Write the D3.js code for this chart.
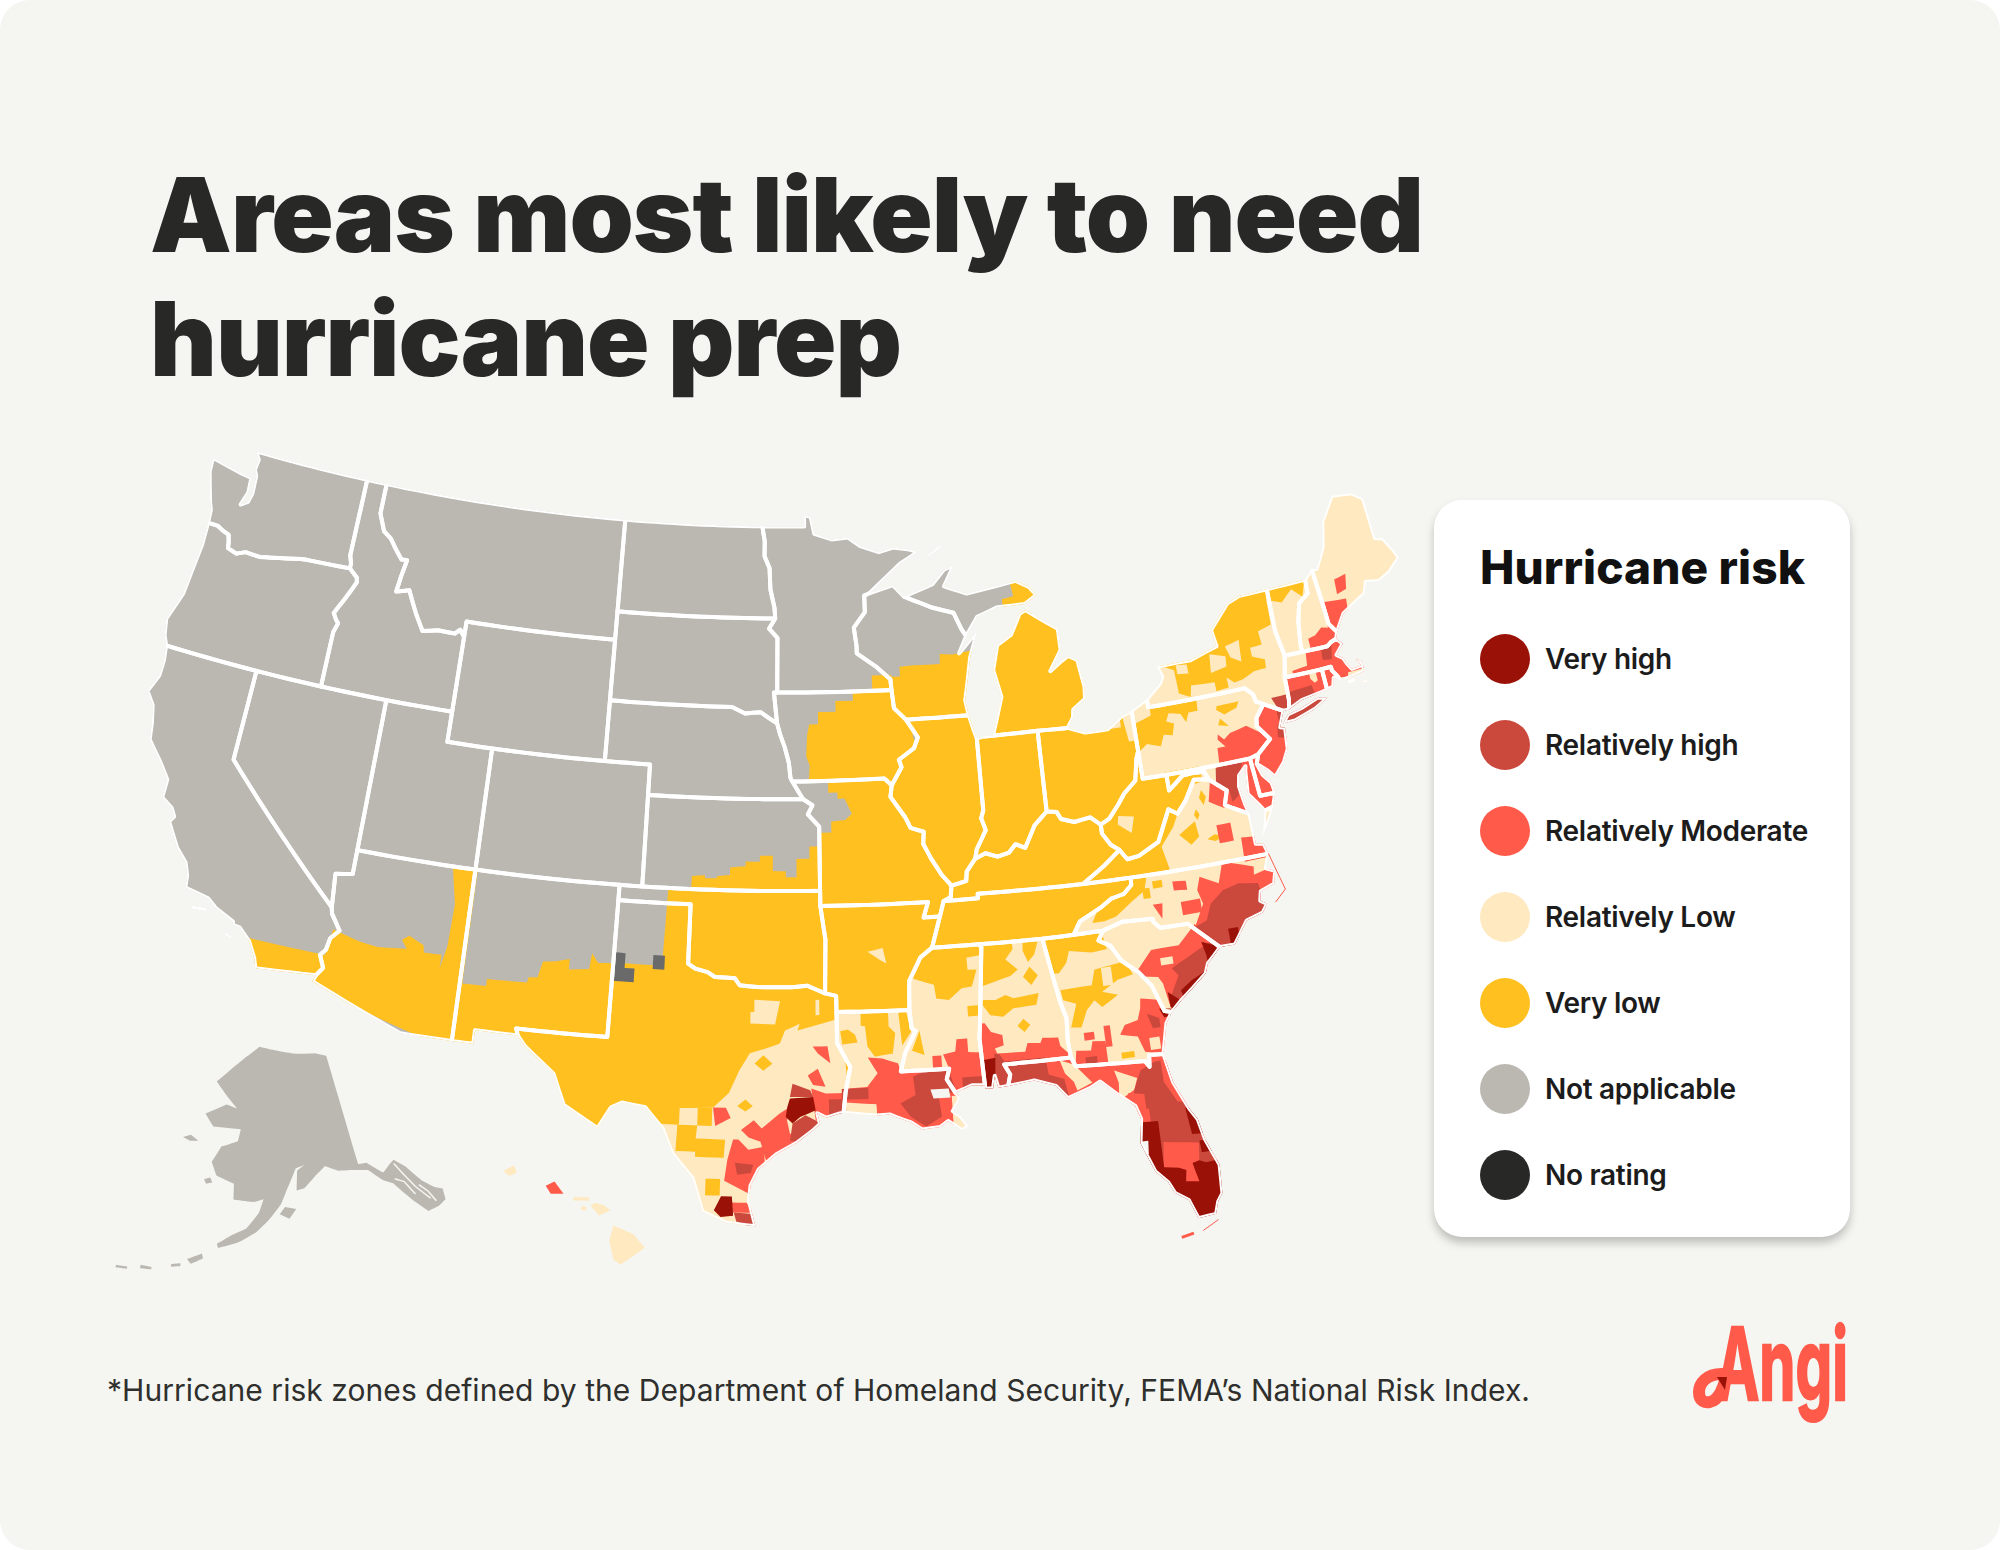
<!DOCTYPE html>
<html lang="en">
<head>
<meta charset="utf-8">
<title>Areas most likely to need hurricane prep</title>
<script src="https://cdn.jsdelivr.net/npm/d3@7"></script>
<style>
  html, body { margin: 0; padding: 0; background: #fff; }
  svg { display: block; }
  text { font-family: Inter, "Noto Sans", sans-serif; }
</style>
</head>
<body>
<script>
// legend
var riskLabels = ["Very high", "Relatively high", "Relatively Moderate", "Relatively Low", "Very low", "Not applicable", "No rating"];
var riskColors = ["#9a1207", "#cb483d", "#ff5a4a", "#ffe9c0", "#ffc020", "#bbb8b2", "#282826"];
var VH = 0, RH = 1, RM = 2, RL = 3, VL = 4, NA = 5, NR = 6;

// shared borders, lon/lat
var aColumbia = [[-124,46.27],[-123.5,46.26],[-123.2,46.15],[-122.9,46.08],[-122.8,45.85],[-122.75,45.65],[-122.3,45.55],[-121.9,45.68],[-121.2,45.65],[-120.65,45.73],[-119.95,45.83],[-119.3,45.93],[-119,45.95],[-116.92,46]];
var aSnake = [[-116.92,46],[-116.5,45.75],[-116.46,45.6],[-116.7,45.2],[-116.85,44.97],[-117.2,44.45],[-117.03,44.25],[-116.9,44.15],[-117.03,43.83],[-117.03,42]];
var aIdMt = [[-116.05,49],[-116.05,48],[-115.7,47.45],[-115.3,47.25],[-114.95,46.93],[-114.6,46.64],[-114.33,46.65],[-114.46,46.1],[-114.55,45.57],[-113.95,45.69],[-113.75,45.4],[-113.44,44.97],[-113,44.45],[-112.3,44.56],[-111.5,44.55],[-111.28,44.7],[-111.05,44.48]];
var aColoCa = [[-114.63,35],[-114.57,34.8],[-114.14,34.3],[-114.45,34],[-114.53,33.6],[-114.72,33.4],[-114.5,33],[-114.72,32.72]];
var aRedN = [[-97.23,49],[-97.1,48.5],[-97.1,48],[-96.85,47.6],[-96.8,46.9],[-96.6,46.3],[-96.56,45.94]];
var aMoIa = [[-96.45,42.49],[-96.3,42.1],[-96.1,41.7],[-95.92,41.2],[-95.85,40.7],[-95.77,40.58]];
var aMoKs = [[-95.3,40],[-94.9,39.8],[-95.1,39.5],[-94.62,39.1]];
var aMnWi = [[-92.05,46.72],[-92.3,46.65],[-92.3,46.1],[-92.85,45.6],[-92.75,45],[-92.75,44.75],[-91.9,44.3],[-91.25,43.85],[-91.22,43.5]];
var aMissWi = [[-91.22,43.5],[-91.15,42.9],[-90.64,42.5]];
var aMissIl = [[-90.64,42.5],[-90.15,41.9],[-90.35,41.55],[-91.05,41.2],[-90.95,40.95],[-91.42,40.38]];
var aMissMo = [[-91.42,40.38],[-91.5,40],[-90.9,39.3],[-90.7,38.95],[-90.15,38.8],[-90.2,38.4],[-89.9,37.9],[-89.5,37.35],[-89.13,36.98]];
var aMissKy = [[-89.13,36.98],[-89.2,36.6],[-89.5,36.5]];
var aMissTn = [[-89.5,36.5],[-89.7,36],[-90.1,35]];
var aMissAr = [[-90.1,35],[-90.6,34.7],[-91.1,33.95],[-91.15,33]];
var aMissLa = [[-91.15,33],[-91.1,32.4],[-90.95,32.3],[-91.4,31.6],[-91.6,31]];
var aOhioIl = [[-89.13,36.98],[-88.5,37.1],[-88.45,37.4],[-88.05,37.8]];
var aOhioIn = [[-88.05,37.8],[-87.6,37.95],[-87.1,37.8],[-86.6,37.9],[-86.3,38.15],[-85.9,38],[-85.4,38.7],[-84.82,39.1]];
var aOhioOh = [[-84.82,39.1],[-84.4,39.05],[-84.25,38.8],[-83.7,38.65],[-83,38.73],[-82.6,38.45]];
var aOhioWv = [[-82.6,38.45],[-82.2,38.6],[-81.75,39],[-81.4,39.35],[-80.85,39.7],[-80.65,40.4],[-80.52,40.64]];
var aWabash = [[-87.53,41.72],[-87.53,39.35],[-87.65,39.1],[-87.5,38.7],[-87.95,38.1],[-88.05,37.8]];
var aRed = [[-100,34.56],[-99.7,34.4],[-99.2,34.3],[-98.9,34.15],[-98.1,34.13],[-97.9,33.9],[-97.2,33.85],[-96.6,33.85],[-95.8,33.85],[-95.2,33.9],[-94.48,33.64]];
var aRio = [[-106.53,31.78],[-106.2,31.45],[-105,30.65],[-104.5,29.65],[-103.15,28.98],[-102.7,29.7],[-102.3,29.88],[-101.4,29.77],[-100.7,29.1],[-100.3,28.3],[-99.5,27.5],[-99.1,26.4],[-98.2,26.05],[-97.15,25.95]];
var aTxGulf = [[-97.15,25.95],[-97.4,26.8],[-97.35,27.3],[-97.05,27.85],[-96.4,28.35],[-95.6,28.75],[-95,29.15],[-94.75,29.35],[-94.85,29.7],[-94.5,29.55],[-94,29.68],[-93.85,29.7]];
var aLaGulf = [[-93.85,29.7],[-92.6,29.58],[-92.1,29.6],[-91.85,29.5],[-91.3,29.3],[-90.9,29.05],[-90.2,29.1],[-89.9,29.28],[-89.4,28.95],[-89.15,29.05],[-89.4,29.4],[-89.7,29.6],[-89.45,29.9],[-89.4,30.05],[-89.55,30.2]];
var aTnNc = [[-81.68,36.59],[-81.7,36.35],[-82.05,36.1],[-82.6,36],[-83.1,35.75],[-84,35.4],[-84.32,34.99]];
var aGaAl = [[-85.6,34.98],[-85.18,32.87],[-85,32.3],[-85.05,31.55],[-85,31]];
var aScGa = [[-83.11,35],[-83.35,34.7],[-82.9,34.48],[-82.55,33.95],[-81.95,33.5],[-81.5,33],[-81.15,32.1],[-80.87,32.03]];
var aPotomac = [[-77.72,39.32],[-77.05,38.85],[-77.25,38.4],[-76.95,38.25],[-76.3,37.95]];
var aWvVa = [[-77.72,39.32],[-78.35,39.4],[-78.87,38.77],[-79.3,38.4],[-79.65,38.6],[-80.3,37.6],[-81.2,37.25],[-81.7,37.2],[-81.97,37.54]];
var aNcCoast = [[-75.87,36.55],[-76.1,36.1],[-75.75,35.95],[-75.9,35.55],[-76.5,35.4],[-76.6,35.1],[-76.35,34.95],[-76.6,34.7],[-77.3,34.55],[-77.95,33.85],[-78.55,33.86]];
var aPacWa = [[-122.75,49],[-122.5,48.75],[-122.55,48.4],[-122.4,48.2],[-122.35,47.6],[-122.45,47.3],[-122.75,47.15],[-122.55,47.6],[-122.6,48.1],[-123.1,48.15],[-124.7,48.38],[-124.65,47.9],[-124.2,46.95],[-124.05,46.7],[-124,46.27]];
var aPacOr = [[-124,46.27],[-123.97,45.5],[-124.07,44.6],[-124.15,43.8],[-124.4,43.2],[-124.55,42.84],[-124.4,42.3],[-124.2,42]];
var aPacCa = [[-124.2,42],[-124.1,41.5],[-124.1,41],[-124.4,40.4],[-124,40],[-123.8,39.4],[-123.7,38.9],[-123,38.3],[-122.5,37.8],[-122.5,37.2],[-122,36.95],[-121.8,36.7],[-121.95,36.5],[-121.35,35.75],[-120.85,35.35],[-120.65,34.95],[-120.6,34.55],[-119.6,34.4],[-119.2,34.15],[-118.8,34],[-118.4,33.85],[-118.4,33.75],[-118.1,33.72],[-117.6,33.35],[-117.25,32.85],[-117.12,32.53]];
function rev(a) { return a.slice().reverse(); }
function ring() { return [].concat.apply([], arguments); }

// state outlines
var stateRings = {
  WA: [ring([[-122.75,49],[-117.04,49],[-117.04,46.42],[-116.92,46.17]], rev(aColumbia), rev(aPacWa))],
  OR: [ring(aColumbia, aSnake, [[-124.2,42]], rev(aPacOr))],
  CA: [ring([[-124.2,42],[-120,42],[-120,39]], aColoCa, [[-117.12,32.53]], rev(aPacCa))],
  NV: [[[-120,42],[-114.04,42],[-114.05,37],[-114.05,36.2],[-114.75,36.1],[-114.63,35],[-120,39]]],
  AZ: [ring([[-114.05,37],[-109.05,37],[-109.05,31.33],[-111.07,31.33],[-114.81,32.5]], rev(aColoCa), [[-114.75,36.1],[-114.05,36.2]])],
  ID: [ring([[-117.04,49]], aIdMt, [[-111.05,42],[-117.03,42]], rev(aSnake), [[-116.92,46.17],[-117.04,46.42]])],
  MT: [ring([[-116.05,49],[-104.05,49],[-104.05,45],[-111.05,45]], rev(aIdMt))],
  WY: [[[-111.05,45],[-104.05,45],[-104.05,41],[-111.05,41]]],
  UT: [[[-114.04,42],[-111.05,42],[-111.05,41],[-109.05,41],[-109.05,37],[-114.05,37]]],
  CO: [[[-109.05,41],[-102.05,41],[-102.05,37],[-109.05,37]]],
  NM: [[[-109.05,37],[-103,37],[-103,36.5],[-103.04,32],[-106.62,32],[-106.53,31.78],[-108.21,31.78],[-108.21,31.33],[-109.05,31.33]]],
  ND: [ring([[-104.05,49]], aRedN, [[-104.05,45.94]])],
  SD: [[[-104.05,45.94],[-96.56,45.94],[-96.85,45.6],[-96.45,45.3],[-96.45,43.5],[-96.6,43.5],[-96.45,42.49],[-96.7,42.6],[-97.2,42.85],[-97.9,42.8],[-98.5,43],[-104.05,43]]],
  NE: [ring([[-104.05,43],[-98.5,43],[-97.9,42.8],[-97.2,42.85],[-96.7,42.6]], aMoIa, [[-95.3,40],[-102.05,40],[-102.05,41],[-104.05,41]])],
  KS: [ring([[-102.05,40]], aMoKs, [[-94.62,37],[-102.05,37]])],
  MN: [ring([[-97.23,49],[-95.15,49],[-95.15,49.38],[-94.82,49.32],[-94.65,48.75],[-93.8,48.55],[-93,48.6],[-92.4,48.3],[-91.5,48.07],[-90.8,48.2],[-90,48.1],[-89.6,48],[-90.5,47.65],[-91.5,47.05]], aMnWi, [[-96.45,43.5],[-96.45,45.3],[-96.85,45.6]], rev(aRedN))],
  IA: [ring([[-96.6,43.5]], aMissWi, aMissIl, [[-91.73,40.61]], rev(aMoIa))],
  MO: [ring([[-95.77,40.58],[-91.73,40.61]], aMissMo, aMissKy, aMissTn.slice(0,2), [[-90.37,36],[-90.15,36.5],[-94.62,36.5],[-94.62,37]], rev(aMoKs))],
  AR: [ring([[-94.62,36.5],[-90.15,36.5],[-90.37,36]], aMissTn.slice(1), aMissAr, [[-94.04,33.02],[-94.04,33.55],[-94.48,33.64],[-94.43,35.4]])],
  LA: [ring([[-94.04,33.02]], aMissLa, [[-89.73,31],[-89.85,30.65]], rev(aLaGulf), [[-93.75,30.4],[-93.55,31.2],[-94.04,32]])],
  OK: [ring([[-103,37],[-94.62,37],[-94.62,36.5],[-94.43,35.4]], rev(aRed), [[-100,36.5],[-103,36.5]])],
  TX: [ring([[-103,36.5],[-100,36.5]], aRed, [[-94.04,33.55],[-94.04,33.02],[-94.04,32],[-93.55,31.2],[-93.75,30.4]], rev(aTxGulf), rev(aRio), [[-106.62,32],[-103.04,32]])],
  WI: [ring([[-92.05,46.72],[-90.9,46.95],[-90.4,46.55],[-89.1,46.13],[-88.1,45.9],[-87.8,45.35],[-87.6,45.1],[-88,44.55],[-87.05,45.25],[-87.5,44.4],[-87.75,43.5],[-87.9,43],[-87.8,42.5]], rev(aMissWi), rev(aMnWi))],
  IL: [ring([[-90.64,42.5],[-87.8,42.5],[-87.6,41.9]], aWabash, rev(aOhioIl), rev(aMissMo), rev(aMissIl))],
  IN: [ring([[-87.53,41.72],[-87.2,41.76],[-84.8,41.76]], rev(aOhioIn), rev(aWabash))],
  OH: [ring([[-84.8,41.76],[-83.45,41.73],[-82.7,41.5],[-81.7,41.5],[-81,41.85],[-80.52,41.98]], rev(aOhioWv), rev(aOhioOh))],
  KY: [ring(aOhioIl, aOhioIn, aOhioOh, [[-82.6,38.15],[-82.3,37.75],[-81.97,37.54],[-82.7,37.1],[-83.68,36.6],[-86,36.63],[-88.07,36.65],[-88.07,36.5]], rev(aMissKy))],
  TN: [ring([[-89.5,36.5],[-88.07,36.5],[-88.07,36.65],[-86,36.63],[-83.68,36.6]], aTnNc, [[-85.6,34.98],[-88.2,35]], rev(aMissTn))],
  MS: [ring([[-90.1,35],[-88.2,35],[-88.1,34.9],[-88.47,31.9],[-88.4,30.37],[-88.9,30.4],[-89.55,30.2],[-89.85,30.65],[-89.73,31]], rev(aMissLa), rev(aMissAr))],
  AL: [ring([[-88.2,35]], aGaAl, [[-87.6,31],[-87.4,30.65],[-87.52,30.28],[-87.9,30.25],[-88,30.65],[-88.1,30.25],[-88.4,30.25],[-88.47,31.9],[-88.1,34.9]])],
  GA: [ring([[-85.6,34.98],[-84.32,34.99]], aScGa, [[-81.15,31.7],[-81.3,31.2],[-81.45,30.71],[-82,30.75],[-82.05,30.36],[-82.2,30.57],[-84.86,30.7]], rev(aGaAl))],
  FL: [[[-87.6,31],[-85,31],[-84.86,30.7],[-82.2,30.57],[-82.05,30.36],[-82,30.75],[-81.45,30.71],[-81.25,29.75],[-80.8,28.8],[-80.55,28.4],[-80.4,27.7],[-80.03,26.8],[-80.1,25.85],[-80.3,25.6],[-80.45,25.2],[-81.1,25.15],[-81.35,25.8],[-81.8,26.1],[-82,26.5],[-82.4,26.9],[-82.6,27.4],[-82.8,27.9],[-82.65,28.7],[-82.8,29.15],[-83.4,29.6],[-84,30.1],[-84.35,29.95],[-85.3,29.68],[-85.7,30.13],[-86.5,30.38],[-87.52,30.28],[-87.4,30.65]]],
  SC: [ring([[-83.11,35],[-82.3,35.2],[-81.04,35.15],[-81.04,35.05],[-80.8,34.82],[-79.67,34.8],[-78.55,33.86],[-79.15,33.4],[-79.3,33.1],[-79.9,32.7],[-80.45,32.35]], rev(aScGa))],
  NC: [ring([[-81.68,36.59]], aNcCoast, [[-79.67,34.8],[-80.8,34.82],[-81.04,35.05],[-81.04,35.15],[-82.3,35.2],[-83.11,35]], rev(aTnNc))],
  VA: [ring([[-83.68,36.6],[-82.7,37.1]], rev(aWvVa), aPotomac, [[-76.3,37.5],[-76.3,36.95],[-75.98,36.9],[-75.87,36.55],[-81.68,36.59]]),
       [[-75.95,37.15],[-75.65,37.95],[-75.25,38.03],[-75.6,37.55]]],
  WV: [ring([[-80.52,40.64],[-80.52,39.72],[-79.48,39.72],[-79.48,39.2],[-78.8,39.6],[-78.4,39.62],[-77.85,39.6]], aWvVa, [[-82.3,37.75],[-82.6,38.15]], aOhioWv)],
  MD: [ring([[-79.48,39.72],[-75.79,39.72],[-75.7,38.46],[-75.05,38.45],[-75.25,38.03],[-75.65,37.95],[-75.85,38.2],[-76.2,38.6],[-76.1,39.35],[-76.05,39.5],[-76.4,39.25],[-76.5,38.9],[-76.4,38.3]], rev(aPotomac), [[-77.85,39.6],[-78.4,39.62],[-78.8,39.6],[-79.48,39.2]])],
  DE: [[[-75.79,39.72],[-75.4,39.8],[-75.55,39.5],[-75.4,39.1],[-75.1,38.8],[-75.05,38.45],[-75.7,38.46]]],
  NJ: [[[-74.7,41.36],[-73.9,41],[-74.2,40.5],[-74,40.45],[-74.1,39.75],[-74.4,39.35],[-74.9,38.95],[-75.15,39.2],[-75.55,39.5],[-75.4,39.8],[-74.75,40.2],[-75.2,40.7],[-75.13,40.97]]],
  PA: [[[-80.52,41.98],[-79.76,42.27],[-79.76,42],[-75.35,42],[-75.05,41.75],[-75,41.5],[-74.7,41.36],[-75.13,40.97],[-75.2,40.7],[-74.75,40.2],[-75.4,39.8],[-75.79,39.72],[-80.52,39.72]]],
  NY: [[[-79.76,42.27],[-79.05,42.7],[-78.9,42.9],[-79.05,43.27],[-77.5,43.27],[-76.2,43.55],[-76.3,44.1],[-75.3,44.85],[-74.7,45],[-73.35,45.01],[-73.4,44.2],[-73.43,43.6],[-73.27,42.75],[-73.5,42.05],[-73.55,41.3],[-73.65,41],[-73.9,41],[-74.7,41.36],[-75,41.5],[-75.05,41.75],[-75.35,42],[-79.76,42]]],
  CT: [[[-73.5,42.05],[-71.8,42.02],[-71.8,41.33],[-72,41.3],[-73,41.2],[-73.65,41],[-73.55,41.3]]],
  RI: [[[-71.8,42.02],[-71.38,42.02],[-71.38,41.9],[-71.2,41.67],[-71.13,41.5],[-71.38,41.65],[-71.5,41.37],[-71.8,41.33]]],
  MA: [[[-73.27,42.75],[-72.46,42.73],[-71.3,42.7],[-71.1,42.8],[-70.82,42.87],[-70.6,42.65],[-71,42.35],[-70.75,42.2],[-70.65,42],[-70.5,41.78],[-70.05,41.8],[-70.2,42.07],[-69.95,41.9],[-70,41.6],[-70.65,41.53],[-71.13,41.5],[-71.2,41.67],[-71.38,41.9],[-71.38,42.02],[-71.8,42.02],[-73.5,42.05]]],
  VT: [[[-73.35,45.01],[-71.5,45.01],[-71.55,44.55],[-72.05,44.3],[-72.3,43.7],[-72.45,43],[-72.46,42.73],[-73.27,42.75],[-73.43,43.6],[-73.4,44.2]]],
  NH: [[[-71.5,45.01],[-71.08,45.3],[-71,44],[-70.98,43.4],[-70.7,43.07],[-70.82,42.87],[-71.1,42.8],[-71.3,42.7],[-72.46,42.73],[-72.45,43],[-72.3,43.7],[-72.05,44.3],[-71.55,44.55]]],
  ME: [[[-71.08,45.3],[-70.85,45.25],[-70.3,45.9],[-70,46.7],[-69.22,47.45],[-69.05,47.43],[-68.3,47.35],[-67.8,47.07],[-67.8,45.7],[-67.45,45.6],[-67.15,45.15],[-67,44.85],[-67.6,44.5],[-68.2,44.3],[-68.8,44.4],[-69,44.05],[-69.8,43.75],[-70.2,43.6],[-70.7,43.07],[-70.98,43.4],[-71,44]]],
  MI: [[[-87.2,41.76],[-84.8,41.76],[-83.45,41.73],[-83.15,42.05],[-83.1,42.3],[-82.5,42.6],[-82.45,43],[-82.6,43.9],[-83,44.07],[-83.4,43.9],[-83.9,43.65],[-83.3,44.3],[-83.3,45],[-84.7,45.75],[-85,45.65],[-85.5,45],[-86.2,44.7],[-86.5,43.9],[-86.25,43],[-86.6,42.2],[-86.8,41.76]]],
  UP: [[[-90.4,46.55],[-89,46.9],[-88.4,47.35],[-87.9,47.47],[-88.45,46.8],[-87.4,46.5],[-85,46.75],[-84.4,46.5],[-84.1,46.2],[-84.7,45.95],[-86,45.95],[-87,45.7],[-87.6,45.1],[-87.8,45.35],[-88.1,45.9],[-89.1,46.13]],
       [[-89.2,47.85],[-88.5,48.17],[-88.4,48.12],[-89.1,47.82]]]
};
// islands kept on the parent state
stateRings.NY.push([[-74.03,40.6],[-73.75,40.85],[-73.1,40.95],[-72.3,41.15],[-71.87,41.07],[-72.5,40.82],[-73.5,40.6]]);
stateRings.CA.push([[-120.2,34.03],[-119.6,34.08],[-119.5,33.97],[-120.1,33.93]], [[-118.6,33.45],[-118.3,33.35],[-118.35,33.3],[-118.6,33.38]]);
stateRings.MA.push([[-70.83,41.45],[-70.5,41.47],[-70.5,41.35],[-70.8,41.33]], [[-70.2,41.3],[-69.98,41.3],[-69.98,41.23],[-70.2,41.25]]);

var stateBase = {
  WA: NA, OR: NA, CA: NA, NV: NA, AZ: NA, ID: NA, MT: NA, WY: NA, UT: NA, CO: NA, NM: NA, ND: NA, SD: NA, NE: NA, KS: NA, MN: NA, IA: NA, WI: NA, UP: NA,
  MO: VL, AR: VL, OK: VL, TX: VL, IL: VL, IN: VL, OH: VL, KY: VL, TN: VL, WV: VL, MI: VL,
  LA: RL, MS: RL, AL: RL, GA: RL, SC: RL, NC: RL, VA: RL, PA: RL, NY: RL, VT: RL, NH: RL, ME: RL, MA: RL,
  FL: RM, MD: RM, DE: RM, NJ: RM, CT: RM, RI: RM
};

var alaskaRings = [
  [[-141,69.65],[-141,60.3],[-139.6,60.2],[-137.5,59],[-136,59.5],[-135.2,59.7],[-133.8,58.8],[-132.3,57.2],[-131,56.3],[-130,55.9],[-130.3,55],[-131.5,54.75],[-133.2,54.7],[-134.7,56],[-135.7,57],[-136.6,57.9],[-137.9,58.4],[-139.7,59.6],[-142.5,60],[-144.5,60.2],[-146.5,60.8],[-148.3,60.2],[-150.5,59.3],[-151.8,59.2],[-151.3,60.8],[-150,61.2],[-151.5,61],[-153.3,59.4],[-154.5,58.2],[-156.5,57],[-158.5,56],[-161,55.2],[-164,54.65],[-164.2,55],[-162,55.8],[-160,56.3],[-158,57.6],[-157.2,58.7],[-158.8,58.5],[-162,58.7],[-162,60],[-165,60.6],[-166,61.7],[-164.5,63],[-161.5,63.5],[-161,64.5],[-163,64.55],[-166.3,64.6],[-168.1,65.6],[-164,66.5],[-161.8,66.2],[-163.8,67.1],[-166.5,68.35],[-163,69.6],[-160,70.5],[-156.6,71.35],[-152,70.85],[-148,70.4],[-143.5,70.1]],
  [[-154.8,57.4],[-153.9,57.95],[-152.2,57.7],[-153.4,56.95]],
  [[-171.7,63.4],[-170.3,63.7],[-168.8,63.3],[-170.3,63.2]],
  [[-167,60.2],[-166,60.4],[-165.6,60],[-166.6,59.85]],
  [[-168.2,53.5],[-166.2,54.1],[-166,53.7],[-167.6,53.15]],
  [[-170.3,52.9],[-169,53.1],[-169,52.85],[-170.2,52.7]],
  [[-174.3,52.4],[-172.8,52.4],[-172.8,52.2],[-174.3,52.1]],
  [[-177.5,51.9],[-176,52],[-176,51.8],[-177.5,51.7]]
];
var alaskaChannels = [
  [[-135.4,59.4],[-134.5,58.2],[-133.6,57],[-132.2,55.6]],
  [[-136.1,58.2],[-134.9,57.7],[-134,56.4]],
  [[-133,57],[-132.1,56.2],[-131.6,55.2]]
];
var hawaiiRisk = [RL, RL, RL, RL, RM, RL];
var hawaiiRings = [
  [[-155.9,20.25],[-155.2,19.95],[-154.8,19.5],[-155.65,18.95],[-155.9,19.1],[-156.05,19.75]],
  [[-156.7,20.9],[-156.55,21],[-156.25,20.93],[-156,20.75],[-156.4,20.58],[-156.6,20.8]],
  [[-157.3,21.2],[-156.75,21.18],[-156.75,21.07],[-157.3,21.08]],
  [[-157,20.9],[-156.82,20.85],[-156.9,20.74],[-157.05,20.8]],
  [[-158.28,21.57],[-157.97,21.71],[-157.65,21.3],[-158.1,21.3]],
  [[-159.78,22.05],[-159.4,22.23],[-159.3,22],[-159.55,21.88]]
];

// risk areas, by county group
var yellowA = [
  [[-117.65,33.45],[-114.52,33.43],[-114.4,32.4],[-117.5,32.4]],
  [[-114.4,34.3],[-113.24,34.07],[-112.5,34],[-111.35,34.1],[-111.6,34.37],[-111.33,34.54],[-110.7,34.3],[-110.65,34.07],[-109.93,34.08],[-109.93,33.64],[-109.75,34.37],[-109.69,35.78],[-110,37],[-108.95,37],[-108.95,31],[-115,32.4],[-114.52,33.45]],
  [[-109.1,33.24],[-108,33.27],[-108,33.5],[-106.4,33.54],[-106.35,33.72],[-106,33.75],[-105.85,34.28],[-105.3,34.33],[-104.78,34.45],[-104.78,34.1],[-103.97,34.18],[-103.9,34.7],[-103.63,34.4],[-103,34.43],[-102.9,31],[-109.1,31]],
  [[-100,37.08],[-100,37.43],[-99.45,37.47],[-99.45,37.37],[-98.95,37.38],[-98.95,37.45],[-98.4,37.5],[-98.4,37.75],[-97.75,37.8],[-97.75,37.95],[-97.15,37.95],[-97.15,38.15],[-96.6,38.15],[-96.6,37.65],[-96.05,37.65],[-96.05,37.45],[-95.6,37.45],[-95.6,38.05],[-95.05,38.05],[-95.05,38.45],[-94.55,38.45],[-94.5,36.9],[-100,36.9]],
  [[-95.05,40.5],[-95,41.1],[-95.15,41.4],[-95.1,42.1],[-95,42.45],[-94.6,42.45],[-94.6,42.85],[-93.8,42.85],[-93.8,43.2],[-93,43.2],[-93,43.55],[-91,43.55],[-90,41],[-91,40.3]],
  [[-92.1,44],[-91.2,44],[-91.2,43.45],[-92.1,43.45]],
  [[-91.5,43.4],[-91.5,43.93],[-90.8,43.93],[-90.8,44.25],[-90.14,44.27],[-88.93,44.25],[-88.9,44.58],[-88.3,44.53],[-87,44.65],[-87,42],[-91,42]],
  [[-85.35,47],[-85.2,46.25],[-85.75,46.2],[-85.75,45.6],[-83.5,45.6],[-83.5,47]]
];
var grayA = [
  [[-96,40.6],[-94.2,40.62],[-94.2,40.2],[-93.8,40.2],[-93.8,40],[-93.5,40],[-93.2,39.5],[-93.5,39.3],[-94.1,39.25],[-94.1,38.9],[-95,38.9],[-96,40]],
  [[-103.04,37.1],[-100.95,37.1],[-101.05,34.45],[-103.04,34.45]]
];
var yellowInCream = [
  [[-73.46,45.1],[-73.55,43.85],[-74.2,43.73],[-74.17,43.28],[-74.72,43.26],[-74.72,42.97],[-74.18,42.78],[-74.22,42.5],[-74.78,42.48],[-75.37,42.3],[-75.75,42.26],[-76.05,42.47],[-76.05,42.14],[-76.62,42.1],[-76.62,42.4],[-77.69,42.45],[-77.8,42.08],[-78.29,42.27],[-78.32,43.05],[-79.1,43.35],[-79,44],[-76,45]],
  [[-77.57,42],[-77.62,41.6],[-78.03,41.6],[-78.21,41.3],[-78.39,41.6],[-78.91,41.69],[-79.08,41.44],[-78.75,41.33],[-78.9,40.96],[-79.29,41.03],[-79.5,40.67],[-80.08,40.82],[-80.4,40.65],[-80.6,40.65],[-80.6,41.55],[-80.42,41.55],[-79.71,41.72],[-79.7,42]],
  [[-76.76,41.62],[-75.75,41.63],[-75.9,41.44],[-76.49,41.3],[-76.8,41.5]],
  [[-76.71,41.2],[-76.4,40.9],[-76.85,41]],
  [[-73.5,44.67],[-72.82,44.47],[-72.25,44.82],[-71.82,44.48],[-71.5,45.1],[-73.5,45.1]],
  [[-78.4,39.5],[-79.07,38.73],[-79.57,38.01],[-80.2,37.43],[-80,36.58],[-84,36.58],[-84,38],[-80,39.6]],
  [[-78.63,38.06],[-79.38,37.71],[-78.95,37.32],[-78.57,37.54]],
  [[-78.13,39.03],[-77.98,38.78],[-78.13,38.53],[-78.28,38.78]],
  [[-78.5,38.44],[-78.38,38.26],[-78.5,38.08],[-78.62,38.26]],
  [[-77.92,37.52],[-77.55,37.41],[-77.92,37.3],[-78.25,37.41]],
  [[-79.6,39.8],[-78,39.8],[-78,39.3],[-79.6,39.1]],
  [[-81.7,36.6],[-81,36.6],[-81.2,36.1],[-81.8,35.8],[-82.5,35.4],[-83,35.3],[-83.5,35.3],[-83,36]],
  [[-80.83,36.36],[-80.43,36.36],[-80.43,36.12],[-80.83,36.12]],
  [[-81.28,36.17],[-80.98,36.17],[-80.98,35.83],[-81.28,35.83]],
  [[-85.6,35],[-83.2,35.05],[-83.06,34.39],[-83.69,34.34],[-84.59,34.48],[-84.75,34.11],[-85.09,33.8],[-85.4,33.8]],
  [[-85.11,33.24],[-83.85,33.28],[-83.67,33.77],[-82.4,33.92],[-82.17,33.45],[-82.8,33.34],[-83.47,33.02],[-82.87,32.85],[-83.55,32.52],[-83.82,32.78],[-84.17,32.48],[-84.46,31.94],[-84.86,31.98],[-84.55,32.74],[-85.05,32.9]],
  [[-83.05,30.95],[-82.55,30.95],[-82.55,30.75],[-83.05,30.75]],
  [[-88.2,35.05],[-86.85,35.05],[-86.85,34.74],[-87.18,34.43],[-86.72,34.06],[-87.04,33.87],[-87.45,33.79],[-88.2,33.62]],
  [[-86.41,35.05],[-85.75,35.05],[-86,34.5],[-86.28,34.27],[-86.45,34.66]],
  [[-88.22,33.17],[-87.72,33.13],[-87.3,33.27],[-87,33.14],[-85.98,33.23],[-86.12,32.85],[-87.04,32.81],[-87.47,32.56],[-87.97,32.65],[-88.24,33]],
  [[-86.69,32.44],[-86.44,32.22],[-86.69,32],[-86.94,32.22]],
  [[-86.24,34.11],[-85.94,33.81],[-86.24,33.51],[-86.54,33.81]],
  [[-91.2,34.1],[-90.12,33.78],[-90.06,33.33],[-89.56,33.25],[-89.02,33.61],[-88.61,33.64],[-88.37,34.18],[-88.73,34.2],[-88.74,34.59],[-88.1,34.65],[-88.1,35.05],[-90.5,35.05]],
  [[-88.85,33.01],[-88.41,33.01],[-88.41,32.67],[-88.85,32.67]],
  [[-91.13,31.66],[-90.8,32.3],[-90.65,31.5]]
];
var creamOverYellow = [
  [[-93.9,32.8],[-94.13,32.76],[-95.59,32.43],[-95.5,32.65],[-96.08,32.43],[-96.28,32],[-96.86,31.83],[-97.45,31.67],[-97.84,31.12],[-98.23,30.35],[-98.82,29.86],[-100.09,29.8],[-100.09,29.25],[-100.9,29.25],[-100,26],[-96.5,25.5],[-93.5,29.2]],
  [[-97.3,33.43],[-96.28,33.39],[-96.47,32.63],[-97.45,32.65],[-97.45,33.03],[-97.3,33.03]],
  [[-94.87,33.43],[-94.72,33.43],[-94.72,32.93],[-94.87,32.93]],
  [[-92.73,34.97],[-92.11,35.07],[-91.98,34.56],[-92.22,34.67]],
  [[-81,42],[-80.5,42],[-80.5,41],[-80.85,41]],
  [[-81.6,41.85],[-81.1,41.85],[-81.1,41.5],[-81.55,41.5]],
  [[-81.81,38.64],[-81.15,38.55],[-81.35,38.03],[-81.88,38.37]]
];
var yellowOverCream = [
  [[-93.91,32.39],[-93.61,32.44],[-93.33,32.26],[-93.24,32],[-93.84,31.95]],
  [[-93.09,33.02],[-92,33],[-92,32.49],[-91.75,32.27],[-91.88,31.6],[-92.58,31.52],[-92.86,31.86],[-92.93,32.53],[-93.1,32.55]],
  [[-91.6,33],[-91.3,33.03],[-91.13,32.28],[-91.5,31.85]],
  [[-100.15,29.25],[-99.4,29.25],[-99.44,28.82],[-98.33,28.81],[-98.37,28.21],[-99.44,28.21],[-99.44,28.38],[-100.18,28.38]],
  [[-99.4,29.85],[-98.85,29.85],[-98.85,29.25],[-99.4,29.25]],
  [[-99.02,27.5],[-98.48,27.5],[-98.48,26.95],[-99.02,26.95]],
  [[-96.92,31.61],[-96.57,31.34],[-96.92,31.1],[-97.26,31.34]],
  [[-97.59,30.15],[-97.31,29.93],[-97.59,29.75],[-97.9,29.93]]
];
var creamIslands = [
  [[-76.6,43.34],[-75.9,43.16],[-75.95,42.83],[-76.7,42.72]],
  [[-75.83,43.48],[-75.15,43.6],[-75.24,42.88],[-75.68,43.09]],
  [[-78.2,43.2],[-77.7,43.15],[-77.7,42.85],[-78.2,42.9]],
  [[-78,39.8],[-77,39.8],[-77.2,39.2],[-77.7,39.2],[-78,39.4]],
  [[-83.4,33.8],[-83,33.8],[-83,33.2],[-83.4,33.2]]
];
var moderateA = [
  [[-76.95,40.7],[-76.72,40.5],[-76.41,40.67],[-75.65,40.79],[-75.18,40.52],[-74.6,40.2],[-75.3,39.6],[-77.15,39.6],[-77.08,40.27],[-76.72,40.27],[-77,40.54]],
  [[-71.05,44.14],[-69.9,44.05],[-70,43.4],[-70.5,43],[-71.05,43]],
  [[-70.19,44.76],[-69.62,44.84],[-69.77,44.36],[-70.24,44.27]],
  [[-72.05,42.6],[-72.05,43.1],[-71.7,43.15],[-71.35,43.35],[-70.9,43.25],[-70.5,42.6]],
  [[-72.3,42.75],[-72.4,42.25],[-73.1,42.2],[-73.1,42],[-69.5,41.3],[-69.5,42.9],[-71.3,42.9]],
  [[-77.7,39.2],[-77,38.85],[-77.3,38.3],[-77.9,38.6]],
  [[-77.77,37.8],[-77.17,37.8],[-77.17,37.2],[-77.77,37.2]],
  [[-76.85,37.25],[-76.3,37.2],[-75.7,37],[-75.7,36.45],[-76.9,36.45]],
  [[-78.86,36.25],[-78.13,35.92],[-77.82,36.6],[-76.58,36.24],[-76.64,35.97],[-75.9,36.1],[-75,35],[-78,33.5],[-79.4,34.65],[-78.91,35.36],[-79.05,35.83]],
  [[-80,36.25],[-79.45,36.2],[-79.45,35.9],[-80,35.95]],
  [[-80.95,35.6],[-80.55,35.6],[-80.65,35.1]],
  [[-79.8,35.54],[-79,35.54],[-79,35.1],[-79.8,35.1]],
  [[-81.94,33.57],[-81.3,34.15],[-80.18,34.16],[-79.4,34.75],[-78.3,33.6],[-80,32],[-80.85,32],[-81.04,33],[-81.19,33.24],[-81.9,33.34]],
  [[-82.02,32.63],[-81.35,32.5],[-81,31.9],[-80.8,31],[-81.4,30.72],[-82.13,30.87],[-82.33,31.4],[-83,31.54],[-82.77,31.84],[-82.24,31.94],[-82.08,32.31]],
  [[-84.77,31.2],[-84.2,31.15],[-84.1,31.45],[-83.6,31.4],[-83.6,30.5],[-84.9,30.5]],
  [[-84.4,31.75],[-84,31.75],[-84,31.5],[-84.4,31.5]],
  [[-83.6,31.9],[-83.35,31.9],[-83.35,31.2],[-83.6,31.2]],
  [[-88.47,32.4],[-88.22,32.4],[-88,32.1],[-87.57,31.97],[-87.55,31.63],[-87.9,31.55],[-87.83,31.38],[-86.74,31.35],[-86.62,31.63],[-86.12,31.59],[-86.02,31.75],[-85.41,31.7],[-85.36,31.42],[-85.02,31.1],[-85,30.9],[-88.5,30]],
  [[-89.75,31.05],[-89.93,31.48],[-89.45,31.55],[-89.37,31.95],[-88.95,31.95],[-88.95,31.5],[-88.4,31.45],[-88.35,30.1],[-89.85,30.1]],
  [[-90.35,31.45],[-90,31.45],[-90,31.05],[-90.35,31.05]],
  [[-92.86,31.5],[-92.3,31.45],[-91.7,31.27],[-91.6,31],[-89.7,31.05],[-89.7,28.9],[-92.55,29.2],[-92.6,29.95],[-93.9,30.05],[-93.65,30.5],[-92.92,30.53],[-92.5,30.97]],
  [[-98.82,29.86],[-98.33,29.86],[-98.14,29.53],[-98.72,29.25]],
  [[-95,31.9],[-94.42,31.9],[-94.32,31.34],[-94.8,31.67]],
  [[-94.81,31.17],[-94.52,30.57],[-95,30.63],[-95.2,30.95]],
  [[-95.07,30.52],[-94.52,30.35],[-93.73,30.35],[-93.73,29.6],[-94.52,29.3],[-94.91,29.47]],
  [[-97.74,29.14],[-97.26,29.47],[-96.96,29.2],[-96.28,29.7],[-95.89,29.91],[-96,29.47],[-95.89,29.03],[-95.3,28.92],[-96,28],[-96.7,27.9],[-97,28.76],[-97.45,28.9]],
  [[-98.03,28.82],[-97.83,28.82],[-97.45,28.49],[-96.86,28.6],[-96.8,27.5],[-97.1,26.9],[-98.33,27.45],[-98.23,28.15]],
  [[-98.03,26.73],[-97.49,26.73],[-97.2,26.4],[-98,26.4]]
];
var creamOverModerate = [
  [[-72.4,42],[-72.1,42],[-72.1,41.7],[-72.25,41.65],[-72.4,41.8]],
  [[-81,33.83],[-80.5,33.83],[-80.5,33.59],[-81,33.59]],
  [[-81.9,31.3],[-81.5,31.3],[-81.5,30.9],[-81.9,30.9]],
  [[-93.9,30],[-92.6,29.95],[-92.55,29.3],[-93.9,29.5]],
  [[-85.45,30.95],[-84.9,30.75],[-84.3,30.1],[-84.9,29.9],[-85,30.2],[-85.3,30.5]],
  [[-83.42,30.4],[-82.58,30.05],[-82.75,29.68],[-83.37,29.4],[-83.3,29.98]],
  [[-70.7,41.7],[-69.9,41.7],[-69.9,41.2],[-70.9,41.2]]
];
var highA = [
  [[-74.3,40.6],[-74,40.6],[-74,40.1],[-74.4,40.2]],
  [[-77.3,39.75],[-76.1,39.75],[-76.4,39.2],[-76.6,38.6],[-76.9,38.45],[-76.95,38.9],[-77.45,39.1]],
  [[-71.6,42.75],[-71.1,42.7],[-71.25,42.25],[-71.65,42.3]],
  [[-73.6,41.55],[-72.42,41.6],[-72.35,41.2],[-73.8,40.9]],
  [[-74.3,41.5],[-73.5,41.5],[-73.5,40.9],[-74,40.9]],
  [[-74.2,41.2],[-71.7,41.2],[-71.7,40.4],[-74.2,40.4]],
  [[-78.6,35.32],[-78.02,35.67],[-77.33,35.8],[-76.55,35.68],[-76.4,35],[-76.5,34.4],[-77.66,34.2],[-78.2,33.6],[-78.59,33.8],[-79.4,34.65],[-78.89,34.8]],
  [[-80.6,33.45],[-79.44,33.9],[-78.75,34.13],[-78.3,33.8],[-79,32.9],[-79.9,32.2],[-80.5,32.3],[-80.9,32.4],[-80.38,33.19]],
  [[-81.85,32.1],[-81.4,31.9],[-81.4,31.6],[-81.7,31.6]],
  [[-87.95,31.38],[-87.75,31.35],[-87.5,31],[-87.4,30.2],[-87.95,30.2]],
  [[-87.7,31.1],[-85.98,31.1],[-85.93,30.53],[-85.35,30.32],[-85.2,29.5],[-87.7,30]],
  [[-84.45,30.95],[-84,30.95],[-84,30.6],[-84.45,30.6]],
  [[-81.85,30.5],[-81.2,30.5],[-81.15,29.5],[-80.3,28.4],[-79.8,26.9],[-81.8,26.4],[-83,27.6],[-82.9,29.2],[-82.75,29.68],[-82.58,30],[-82.4,30.3]],
  [[-89.25,30.68],[-88.47,30.68],[-88.4,30.1],[-89.25,30.1]],
  [[-91.14,30.8],[-90.44,31.06],[-89.75,30.97],[-89.53,30.25],[-90.2,30.1],[-90.12,29.44],[-90.73,29.14],[-91.3,29.49],[-91.67,29.94],[-91.08,30.2]],
  [[-93.61,30.49],[-92.88,30.5],[-92.88,30.13],[-93.9,30.13],[-93.9,30.49]],
  [[-94.4,30.15],[-93.75,30.15],[-93.75,29.55],[-94.4,29.5]],
  [[-95.79,30.68],[-95.11,30.46],[-95,30.24],[-95.89,30.24]],
  [[-95.79,29.37],[-95.3,29.64],[-94.71,29.37],[-95.3,28.7],[-95.89,28.8]],
  [[-97.95,28.05],[-97.26,28],[-97.35,27.72],[-97.85,27.66]],
  [[-97.95,26.4],[-97,26.35],[-97,25.8],[-97.85,26.1]]
];
var moderateOverHigh = [
  [[-81.6,30.5],[-81.1,30.5],[-80.8,29],[-81.2,29.1],[-81.6,29.8]],
  [[-83,29.6],[-82.4,29.5],[-82.4,28.9],[-83,28.6]],
  [[-82.85,29],[-82.3,29],[-82.3,28.55],[-82.85,28.55]],
  [[-81.95,27.83],[-80.65,27.64],[-80.74,27.05],[-81,27],[-80.86,26.36],[-81.34,26.43],[-81.27,26.8],[-81.53,26.91],[-82.08,26.99]]
];
var veryHighA = [
  [[-95.89,30.19],[-95,30.24],[-94.91,29.8],[-95.5,29.58],[-95.79,29.37],[-96.05,29.58],[-95.99,29.91]],
  [[-98.43,26.93],[-98.03,26.93],[-97.97,26.29],[-98.43,26.24],[-98.68,26.46]],
  [[-88.42,31.2],[-87.92,31.24],[-88,30.2],[-88.42,30.2]],
  [[-83,28.6],[-82.03,28.55],[-82.06,27],[-81.53,26.91],[-81.27,26.8],[-81.34,26.43],[-80.86,26.36],[-81,27],[-80.74,27.05],[-80.5,26.95],[-79.7,27],[-79.7,25],[-81.5,25],[-81.9,26],[-82.5,26.5],[-83,27.5]],
  [[-80.62,27.7],[-79.9,27.7],[-79.9,27.3],[-80.6,27.3]],
  [[-80.95,28.85],[-80.3,28.8],[-80.3,27.9],[-80.85,27.95]],
  [[-78.1,34.4],[-77.7,34.4],[-77.7,33.8],[-78.1,33.9]],
  [[-79.26,34.14],[-78.75,33.95],[-78.6,33.6],[-79.15,33.5],[-79.15,33.68]],
  [[-80.38,32.69],[-79.9,32.95],[-79.25,33.19],[-79,33],[-79.8,32.3],[-80.3,32.3]],
  [[-80.91,32.7],[-80.45,32.36],[-80.6,32],[-80.89,32.2]],
  [[-81.35,32.2],[-80.9,32.15],[-80.8,31.9],[-81.2,31.9]]
];
var noRatingCells = [
  [[-103,34.8],[-102.55,34.78],[-102.55,34.3],[-102.15,34.3],[-102.15,33.85],[-103.03,33.85]],
  [[-101.42,34.78],[-100.95,34.78],[-100.95,34.32],[-101.42,34.32]]
];
var patchLayers = [
  [VL, yellowA], [NA, grayA], [VL, yellowInCream], [RL, creamOverYellow], [VL, yellowOverCream], [RL, creamIslands],
  [RM, moderateA], [RL, creamOverModerate], [RH, highA], [RM, moderateOverHigh], [VH, veryHighA], [NR, noRatingCells]
];
var waterCuts = [
  [[-90.5,30.35],[-89.8,30.35],[-89.75,30.05],[-90.4,30.05]],
  [[-82.75,27.95],[-82.5,27.95],[-82.55,27.5],[-82.7,27.6]]
];
var outerBanks = [[-75.87,36.55],[-75.5,35.3],[-76,34.95]];
var keysMain = [[-81.8,24.6],[-81.35,24.68]];
var keysUpper = [[-81,24.72],[-80.4,25]];

var W = 2000, H = 1550;
var bg = "#f5f6f1";

var proj48 = d3.geoAlbers().rotate([96, 0]).center([-0.6, 38.7]).parallels([29.5, 45.5]).scale(1735).translate([773, 839]);
var projAk = d3.geoConicEqualArea().rotate([160, 0]).center([0, 62.5]).parallels([55, 65]).scale(694).translate([246, 1153.5]);
var projHi = d3.geoConicEqualArea().rotate([157, 0]).center([0, 20]).parallels([8, 18]).scale(1735).translate([582, 1233]);

// long edges have to follow the parallels, so sample them every half degree
function dense(r, closed) {
  var out = [], pts = closed === false ? r : r.concat([r[0]]);
  for (var i = 0; i < pts.length - 1; i++) {
    var a = pts[i], b = pts[i + 1];
    var n = Math.max(1, Math.ceil(Math.max(Math.abs(b[0] - a[0]), Math.abs(b[1] - a[1])) / 0.5));
    for (var j = 0; j < n; j++) out.push([a[0] + (b[0] - a[0]) * j / n, a[1] + (b[1] - a[1]) * j / n]);
  }
  out.push(pts[pts.length - 1]);
  return out;
}
function ringPath(r, proj) {
  return d3.line()(dense(r).map(function(p) { return proj(p); })) + "Z";
}
function linePath(r, proj) {
  return d3.line()(dense(r, false).map(function(p) { return proj(p); }));
}

var svg = d3.select("body").append("svg").attr("width", W).attr("height", H);
svg.append("rect").attr("width", W).attr("height", H).attr("rx", 30).attr("fill", bg);

var stateKeys = Object.keys(stateRings);
var stateD = {};
stateKeys.forEach(function(k) {
  stateD[k] = stateRings[k].map(function(r) { return ringPath(r, proj48); }).join("");
});

svg.append("clipPath").attr("id", "land").append("path").attr("d", stateKeys.map(function(k) { return stateD[k]; }).join(""));

var map = svg.append("g").attr("clip-path", "url(#land)");
map.selectAll("path.state").data(stateKeys).enter().append("path")
  .attr("class", "state")
  .attr("d", function(k) { return stateD[k]; })
  .attr("fill", function(k) { return riskColors[stateBase[k]]; });

patchLayers.forEach(function(layer) {
  map.append("g").selectAll("path").data(layer[1]).enter().append("path")
    .attr("d", function(r) { return ringPath(r, proj48); })
    .attr("fill", layer[0] === NR ? "#6a6a6a" : riskColors[layer[0]]);
});
map.append("g").selectAll("path").data(waterCuts).enter().append("path")
  .attr("d", function(r) { return ringPath(r, proj48); })
  .attr("fill", bg);
map.selectAll("path.border").data(stateKeys).enter().append("path")
  .attr("class", "border")
  .attr("d", function(k) { return stateD[k]; })
  .attr("fill", "none")
  .attr("stroke", "#fff")
  .attr("stroke-width", 4)
  .attr("stroke-linejoin", "round");

svg.append("path").attr("d", linePath(outerBanks, proj48)).attr("fill", "none").attr("stroke", riskColors[RM]).attr("stroke-width", 1);
svg.append("path").attr("d", linePath(keysMain, proj48)).attr("fill", "none").attr("stroke", riskColors[RM]).attr("stroke-width", 3);
svg.append("path").attr("d", linePath(keysUpper, proj48)).attr("fill", "none").attr("stroke", riskColors[RM]).attr("stroke-width", 1);

svg.append("g").selectAll("path").data(alaskaRings).enter().append("path")
  .attr("d", function(r) { return ringPath(r, projAk); })
  .attr("fill", riskColors[NA]);
svg.append("g").selectAll("path").data(alaskaChannels).enter().append("path")
  .attr("d", function(r) { return linePath(r, projAk); })
  .attr("fill", "none").attr("stroke", bg).attr("stroke-width", 1.5);
svg.append("g").selectAll("path").data(hawaiiRings).enter().append("path")
  .attr("d", function(r) { return ringPath(r, projHi); })
  .attr("fill", function(d, i) { return riskColors[hawaiiRisk[i]]; });

// title
var titleLines = ["Areas most likely to need", "hurricane prep"];
svg.selectAll("text.title").data(titleLines).enter().append("text")
  .attr("class", "title")
  .attr("x", 150)
  .attr("y", function(d, i) { return 252 + i * 124; })
  .attr("font-size", 103)
  .attr("font-weight", 900)
  .attr("letter-spacing", -1)
  .attr("fill", "#282826")
  .text(function(d) { return d; });

// legend card
var legend = svg.append("g");
legend.append("rect").attr("x", 1434).attr("y", 500).attr("width", 416).attr("height", 737).attr("rx", 28)
  .attr("fill", "#fff")
  .style("filter", "drop-shadow(0px 6px 4px rgba(0,0,0,0.22))");
legend.append("text").attr("x", 1480).attr("y", 584).attr("font-size", 46).attr("font-weight", 800).attr("letter-spacing", 0.1).attr("fill", "#111").text("Hurricane risk");
var rowY = d3.scaleLinear().domain([0, 6]).range([659, 1175]);
var rows = legend.selectAll("g.row").data(riskLabels).enter().append("g").attr("class", "row");
rows.append("circle").attr("cx", 1505).attr("cy", function(d, i) { return rowY(i); }).attr("r", 25).attr("fill", function(d, i) { return riskColors[i]; });
rows.append("text").attr("x", 1545).attr("y", function(d, i) { return rowY(i) + 10; })
  .attr("font-size", 28).attr("font-weight", 600).attr("letter-spacing", -0.3).attr("fill", "#1c1c1c")
  .text(function(d) { return d; });

// footnote
svg.append("text").attr("x", 107).attr("y", 1401).attr("font-size", 30).attr("letter-spacing", 0.05).attr("fill", "#2f2f2d")
  .text("*Hurricane risk zones defined by the Department of Homeland Security, FEMA\u2019s National Risk Index.");

// logo
var logo = svg.append("g");
logo.append("path")
  .attr("d", "M1724,1374 C1706,1373 1699,1384 1699,1392 C1699,1402 1706,1403 1710,1402 C1719,1400 1724,1387 1726,1376")
  .attr("fill", "none").attr("stroke", "#ff5a4a").attr("stroke-width", 12);
logo.append("text").attr("x", 1716).attr("y", 1400)
  .attr("font-size", 100).attr("font-weight", 700)
  .attr("textLength", 132).attr("lengthAdjust", "spacingAndGlyphs")
  .attr("stroke", "#ff5a4a").attr("stroke-width", 2.5)
  .attr("fill", "#ff5a4a").text("Angi");
logo.append("path").attr("d", "M1717,1377 L1727,1377 L1725,1390 Z").attr("fill", "#9a1207");
</script>
</body>
</html>
